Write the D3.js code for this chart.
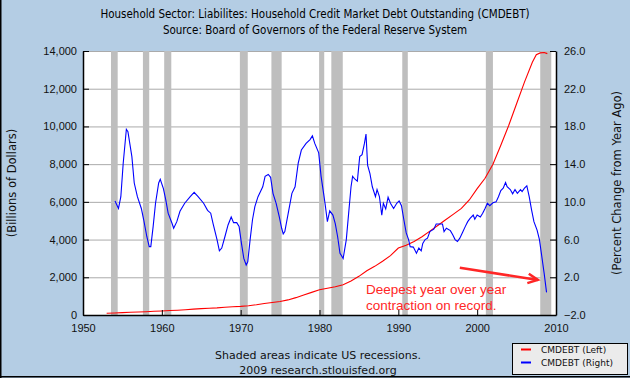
<!DOCTYPE html>
<meta charset="utf-8">
<head>
    <title>CMDEBT</title>
    <script src="https://cdn.jsdelivr.net/npm/d3@7"></script>
</head>

<style>
body { margin: 0; background: #b4cde4; }
svg { display: block; font-family: "DejaVu Sans", Verdana, sans-serif; }
.axis text { font-size: 11px; fill: #111; }
.axis path, .axis line { stroke: #000; }
.grid line { stroke: #aaaaaa; }
</style>

<body>

<svg></svg>

<script>

// household credit market debt, billions (left axis)
let redYears = [1953, 1954, 1955, 1956, 1957, 1958, 1959, 1960, 1961, 1962, 1963, 1964,
  1965, 1966, 1967, 1968, 1969, 1970, 1971, 1972, 1973, 1974, 1975, 1976, 1977, 1978,
  1979, 1980, 1981, 1982, 1983, 1984, 1985, 1986, 1987, 1988, 1989, 1990, 1991, 1992,
  1993, 1994, 1995, 1996, 1997, 1998, 1999, 2000, 2001, 2002, 2003, 2004, 2005, 2006,
  2007, 2007.5, 2008, 2008.5, 2008.9];
let redValues = [95, 110, 125, 145, 160, 175, 195, 215, 235, 255, 280, 310,
  340, 360, 380, 410, 435, 455, 490, 545, 610, 665, 720, 800, 920, 1060,
  1200, 1340, 1420, 1500, 1600, 1800, 2050, 2350, 2580, 2850, 3150, 3550, 3700, 3900,
  4150, 4450, 4750, 5050, 5350, 5650, 6100, 6700, 7250, 8000, 9000, 10050, 11200, 12350,
  13400, 13800, 13900, 13920, 13860];

// percent change from year ago (right axis)
let blueYears = [1954.06, 1954.5, 1954.8, 1955.1, 1955.5, 1955.7, 1956.2, 1956.5, 1956.9, 1957.4,
  1957.7, 1958.1, 1958.4, 1958.6, 1958.9, 1959.2, 1959.6, 1959.8, 1960.2, 1960.5,
  1960.8, 1961.3, 1961.5, 1961.9, 1962.3, 1962.9, 1963.6, 1964.1, 1964.6, 1965.3,
  1965.8, 1966.2, 1966.5, 1967, 1967.3, 1967.6, 1968, 1968.4, 1968.8, 1969.1,
  1969.5, 1969.8, 1970.1, 1970.4, 1970.7, 1970.9, 1971.2, 1971.5, 1971.8, 1972.2,
  1972.8, 1973.1, 1973.5, 1973.8, 1974.1, 1974.5, 1974.9, 1975.2, 1975.4, 1975.6,
  1976.1, 1976.5, 1976.9, 1977.3, 1977.7, 1978.3, 1978.8, 1979.1, 1979.4, 1979.9,
  1980.2, 1980.5, 1980.7, 1981.0, 1981.3, 1981.7, 1982.0, 1982.3, 1982.6, 1983.0,
  1983.4, 1983.7, 1984.0, 1984.2, 1984.5, 1984.8, 1985.1, 1985.4, 1985.7, 1985.9,
  1986.1, 1986.4, 1986.7, 1987.1, 1987.3, 1987.6, 1987.9, 1988.1, 1988.4, 1988.7,
  1989.0, 1989.4, 1989.8, 1990.1, 1990.4, 1990.7, 1991.0, 1991.3, 1991.5, 1991.9,
  1992.3, 1992.6, 1992.9, 1993.1, 1993.4, 1993.7, 1994.0, 1994.5, 1994.8, 1995.2,
  1995.6, 1995.8, 1996.1, 1996.6, 1996.9, 1997.2, 1997.5, 1997.8, 1998.2, 1998.5,
  1998.8, 1999.1, 1999.5, 1999.7, 2000.0, 2000.4, 2000.7, 2001.0, 2001.3, 2001.6,
  2002.0, 2002.4, 2002.7, 2003.0, 2003.3, 2003.6, 2003.8, 2004.2, 2004.5, 2004.8,
  2005.1, 2005.5, 2005.7, 2006.0, 2006.3, 2006.6, 2006.9, 2007.2, 2007.6, 2007.9,
  2008.2, 2008.5, 2008.8];
let blueValues = [10.1, 9.3, 10.55, 14.1, 17.7, 17.45, 14.8, 12, 10.55, 9.3,
  8.1, 6.3, 5.25, 5.25, 7.4, 9.85, 12, 12.4, 11.4, 10.2,
  8.8, 7.7, 7.2, 7.9, 9, 9.85, 10.55, 11, 10.55, 9.85,
  9.1, 8.8, 7.7, 6, 4.8, 5.1, 6.3, 7.55, 8.4, 7.8,
  7.8, 7.4, 5.6, 4.0, 3.3, 3.65, 6, 8.1, 9.5, 10.55,
  11.6, 12.7, 12.9, 12.6, 10.9, 9.85, 8.4, 7.2, 6.6, 6.85,
  9.1, 10.9, 11.6, 14.1, 15.5, 16.2, 16.6, 17, 16.2, 15.2,
  12.7, 11.0, 9.85, 7.9, 9.05, 8.6, 7.7, 6.3, 4.55, 4.0,
  6.0, 8.8, 11.6, 12.7, 12.4, 12.2, 14.8, 15, 16.2, 17.2,
  13.9, 13, 11.6, 10.55, 11.3, 10.55, 8.6, 9.85, 9.25, 10.5,
  9.85, 9.3, 9.85, 10.1, 9.6, 8.1, 6.7, 6.0, 5.25, 5.2,
  4.55, 5.1, 4.8, 5.6, 6.0, 6.15, 6.85, 7.1, 7.65, 7.65,
  7.65, 6.85, 7.2, 6.95, 6.5, 6.0, 5.8, 6.15, 6.85, 7.4,
  7.9, 8.25, 8.6, 8.15, 8.6, 8.4, 8.8, 9.3, 9.85, 9.6,
  9.9, 10.0, 10.55, 11.2, 11.45, 12.05, 11.6, 11.3, 10.85, 11.3,
  10.9, 11.3, 11.1, 11.45, 11.7, 10.55, 9.15, 7.9, 7.0, 6.0,
  4.2, 2.4, 0.4];

// recessions (shaded)
let recessionStarts = [1953.55, 1957.6, 1960.3, 1969.9, 1973.9, 1979.95, 1981.5, 1990.5, 2001.1, 2008.0];
let recessionEnds = [1954.4, 1958.4, 1961.2, 1970.9, 1975.2, 1980.6, 1982.95, 1991.2, 2002.0, 2009.4];

let xTicks = [1950, 1960, 1970, 1980, 1990, 2000, 2010];
let leftTicks = [0, 2000, 4000, 6000, 8000, 10000, 12000, 14000];
let rightTicks = [-2, 2, 6, 10, 14, 18, 22, 26];

let W = 630, H = 378;
let margin = {top: 51, right: 74, bottom: 63, left: 83};
let x0 = margin.left, x1 = W - margin.right;
let y0 = H - margin.bottom, y1 = margin.top;

let x = d3.scaleLinear().domain([1950, 2010]).range([x0, x1]);
let yLeft = d3.scaleLinear().domain([0, 14000]).range([y0, y1]);
let yRight = d3.scaleLinear().domain([-2, 26]).range([y0, y1]);

let svg = d3.select("svg").attr("width", W).attr("height", H);

// outer frame (left and bottom only)
svg.append("line").attr("x1", 0.75).attr("x2", 0.75).attr("y1", 0).attr("y2", H)
  .attr("stroke", "#000").attr("stroke-width", 1.5);
svg.append("line").attr("x1", 0).attr("x2", W).attr("y1", H - 1.25).attr("y2", H - 1.25)
  .attr("stroke", "#000").attr("stroke-width", 1.5);

// titles
svg.append("text").attr("x", 315).attr("y", 18).attr("text-anchor", "middle")
  .style("font-family", "'DejaVu Sans Condensed', 'DejaVu Sans', sans-serif").style("font-size", "11.5px")
  .text("Household Sector: Liabilites: Household Credit Market Debt Outstanding (CMDEBT)");
svg.append("text").attr("x", 315).attr("y", 34).attr("text-anchor", "middle")
  .style("font-family", "'DejaVu Sans Condensed', 'DejaVu Sans', sans-serif").style("font-size", "11.5px")
  .text("Source: Board of Governors of the Federal Reserve System");

// plot background
svg.append("rect").attr("x", x0).attr("y", y1).attr("width", x1 - x0).attr("height", y0 - y1)
  .attr("fill", "#fff");

// gridlines
svg.append("g").attr("class", "grid")
  .selectAll("line").data(leftTicks.slice(1)).enter().append("line")
  .attr("x1", x0).attr("x2", x1)
  .attr("y1", d => yLeft(d) + 0.5).attr("y2", d => yLeft(d) + 0.5);

// recession bars
svg.append("g").selectAll("rect").data(recessionStarts).enter().append("rect")
  .attr("x", d => x(d))
  .attr("width", (d, i) => x(recessionEnds[i]) - x(d))
  .attr("y", y1).attr("height", y0 - y1)
  .attr("fill", "#bebebe");

// lines
let redLine = d3.line().x(d => x(d[0])).y(d => yLeft(d[1]));
let blueLine = d3.line().x(d => x(d[0])).y(d => yRight(d[1]));

svg.append("path").datum(d3.zip(redYears, redValues))
  .attr("d", redLine).attr("fill", "none").attr("stroke", "#ff0000").attr("stroke-width", 1.1);
svg.append("path").datum(d3.zip(blueYears, blueValues))
  .attr("d", blueLine).attr("fill", "none").attr("stroke", "#0000ff").attr("stroke-width", 1.1);

// axes
svg.append("g").attr("class", "axis")
  .attr("transform", "translate(" + x0 + ",0)")
  .call(d3.axisLeft(yLeft).tickValues(leftTicks).tickSize(-6).tickSizeOuter(0).tickPadding(6)
    .tickFormat(d3.format(",")));

svg.append("g").attr("class", "axis")
  .attr("transform", "translate(" + x1 + ",0)")
  .call(d3.axisRight(yRight).tickValues(rightTicks).tickSize(-6).tickSizeOuter(0).tickPadding(8)
    .tickFormat(d3.format(".1f")));

svg.append("g").attr("class", "axis")
  .attr("transform", "translate(0," + y0 + ")")
  .call(d3.axisBottom(x).tickValues(xTicks).tickSize(-5).tickSizeOuter(0).tickPadding(9)
    .tickFormat(d3.format("d")));

svg.selectAll(".axis .domain").attr("stroke-width", 1.5);

// axis titles
svg.append("text").attr("transform", "translate(16," + (y0 + y1) / 2 + ") rotate(-90)")
  .attr("text-anchor", "middle").style("font-size", "11.5px").attr("fill", "#111")
  .text("(Billions of Dollars)");
svg.append("text").attr("transform", "translate(621," + (y0 + y1) / 2 + ") rotate(-90)")
  .attr("text-anchor", "middle").style("font-size", "11.5px").attr("fill", "#111")
  .text("(Percent Change from Year Ago)");

// annotation
let red = "#ff2626";
let note = svg.append("text").attr("x", x(1985.9)).attr("y", yRight(0.2))
  .style("font-family", "'Liberation Sans', Arial, sans-serif").style("font-size", "13.5px")
  .attr("fill", red);
note.append("tspan").attr("x", x(1985.9)).text("Deepest year over year");
note.append("tspan").attr("x", x(1985.9)).attr("dy", 16).text("contraction on record.");

let ax0 = x(1997.8), ay0 = yRight(3.0), ax1 = x(2007.7), ay1 = yRight(1.72);
let ang = Math.atan2(ay1 - ay0, ax1 - ax0);
svg.append("line").attr("x1", ax0).attr("y1", ay0).attr("x2", ax1).attr("y2", ay1)
  .attr("stroke", red).attr("stroke-width", 2.5);
svg.append("path")
  .attr("d", "M" + (ax1 - 11 * Math.cos(ang - 0.45)) + "," + (ay1 - 11 * Math.sin(ang - 0.45)) +
    "L" + ax1 + "," + ay1 +
    "L" + (ax1 - 11 * Math.cos(ang + 0.45)) + "," + (ay1 - 11 * Math.sin(ang + 0.45)))
  .attr("fill", "none").attr("stroke", red).attr("stroke-width", 2.5);

// footer
svg.append("text").attr("x", 318).attr("y", 359).attr("text-anchor", "middle")
  .style("font-size", "11px").attr("fill", "#111").text("Shaded areas indicate US recessions.");
svg.append("text").attr("x", 318).attr("y", 374).attr("text-anchor", "middle")
  .style("font-size", "11px").attr("fill", "#111").text("2009 research.stlouisfed.org");

// legend
let legend = svg.append("g").attr("transform", "translate(512,343)");
legend.append("rect").attr("x", 0.5).attr("y", 0.5).attr("width", 115).attr("height", 31)
  .attr("fill", "#ebebeb").attr("stroke", "#000");
let legendItems = [["CMDEBT (Left)", "#ff0000"], ["CMDEBT (Right)", "#0000ff"]];
legendItems.forEach(function(d, i) {
  legend.append("line").attr("x1", 9).attr("x2", 19).attr("y1", 6.5 + i * 13).attr("y2", 6.5 + i * 13)
    .attr("stroke", d[1]).attr("stroke-width", 2);
  legend.append("text").attr("x", 29).attr("y", 10 + i * 13)
    .style("font-size", "9px").attr("fill", "#111").text(d[0]);
});

</script>

</body>
